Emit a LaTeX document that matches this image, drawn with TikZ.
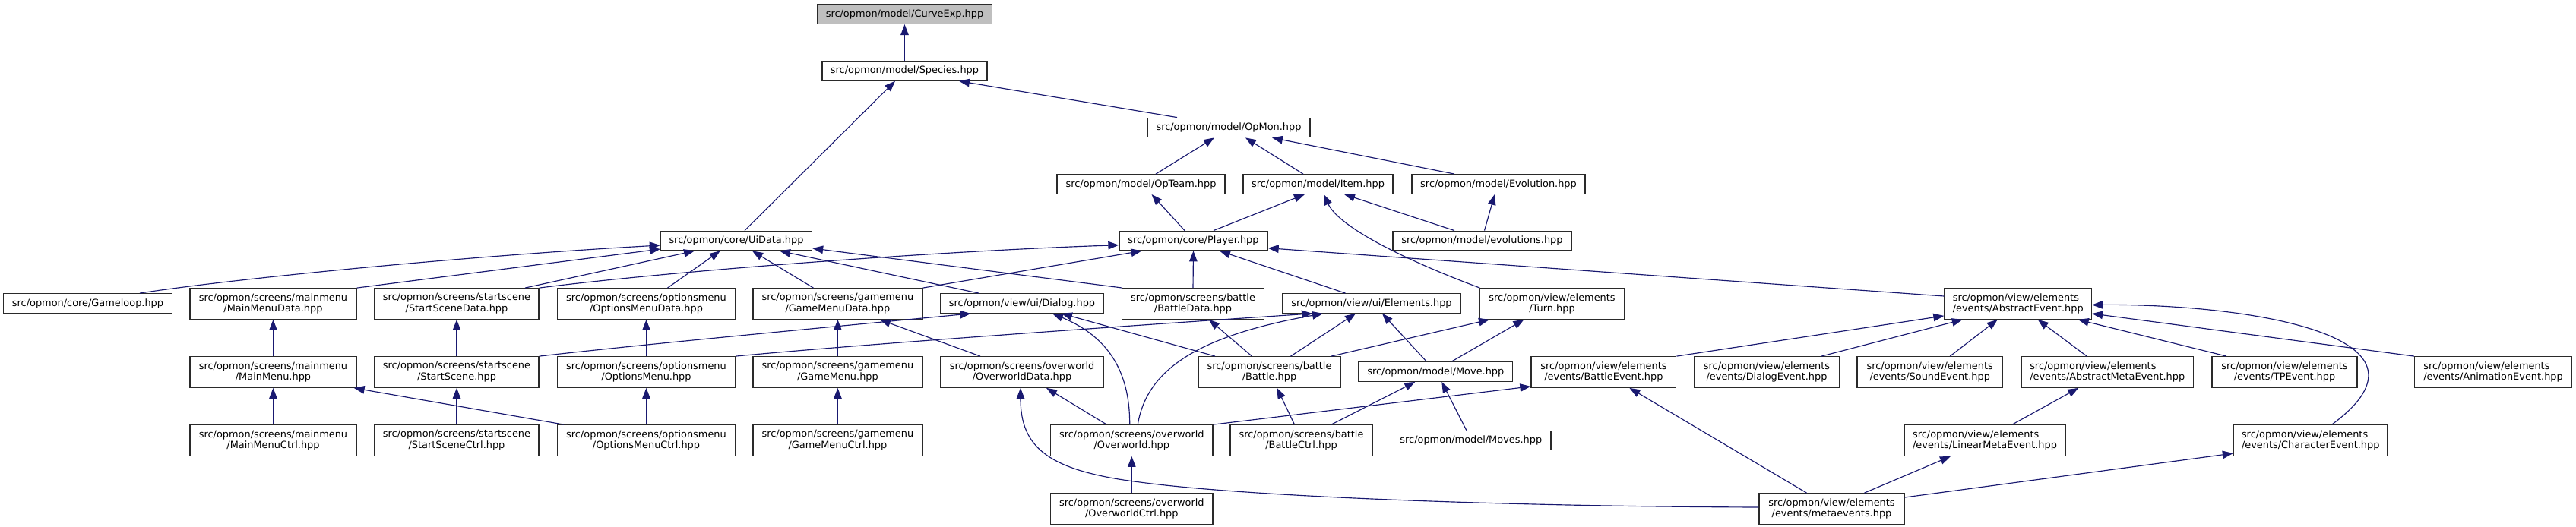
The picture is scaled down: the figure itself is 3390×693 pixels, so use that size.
\documentclass[tikz,border=0pt]{standalone}
\usepackage{fontspec}
\newfontfamily\dvs{DejaVu Sans}
\usetikzlibrary{arrows.meta,calc}
\definecolor{edgec}{HTML}{191970}
\definecolor{nodegray}{HTML}{BFBFBF}
\definecolor{bord}{HTML}{2A2A2A}
\tikzset{
  fbox/.style={draw=bord, line width=1.3pt, fill=white, inner sep=0pt,
    font={\dvs\fontsize{12.9pt}{14.8pt}\selectfont}, align=center, minimum height=25.5pt},
  tbox/.style={fbox, minimum height=40.5pt},
  lbox/.style={tbox, align=left},
  dep/.style={draw=edgec, line width=1.15pt, -{Triangle[length=14pt,width=10.5pt]}},
}
\begin{document}
\begin{tikzpicture}[x=1pt,y=-1pt]
\useasboundingbox[fill=white] (0,0) rectangle (3390,693);
% rank 0-4
\node[fbox, fill=nodegray, minimum width=230pt] (curve) at (1190.5,18.7) {src/opmon/model/CurveExp.hpp};
\node[fbox, minimum width=217pt] (species) at (1190.5,93.3) {src/opmon/model/Species.hpp};
\node[fbox, minimum width=214pt] (opmon) at (1617,168) {src/opmon/model/OpMon.hpp};
\node[fbox, minimum width=221pt] (opteam) at (1501.5,242.5) {src/opmon/model/OpTeam.hpp};
\node[fbox, minimum width=197pt] (item) at (1734.5,242.5) {src/opmon/model/Item.hpp};
\node[fbox, minimum width=228pt] (evolution) at (1972,242.5) {src/opmon/model/Evolution.hpp};
\node[fbox, minimum width=199pt] (uidata) at (969,317) {src/opmon/core/UiData.hpp};
\node[fbox, minimum width=195pt] (player) at (1570.5,317) {src/opmon/core/Player.hpp};
\node[fbox, minimum width=235pt] (evolutions) at (1950.5,317) {src/opmon/model/evolutions.hpp};
% rank 5
\node[fbox, minimum width=222pt] (gameloop) at (115.5,399.5) {src/opmon/core/Gameloop.hpp};
\node[tbox, minimum width=219pt] (mmdata) at (359.5,400) {src/opmon/screens/mainmenu\\/MainMenuData.hpp};
\node[tbox, minimum width=216pt] (ssdata) at (601,400) {src/opmon/screens/startscene\\/StartSceneData.hpp};
\node[tbox, minimum width=234pt] (omdata) at (850.5,400) {src/opmon/screens/optionsmenu\\/OptionsMenuData.hpp};
\node[tbox, minimum width=223pt] (gmdata) at (1102.4,400) {src/opmon/screens/gamemenu\\/GameMenuData.hpp};
\node[fbox, minimum width=214.5pt] (dialog) at (1345,399.5) {src/opmon/view/ui/Dialog.hpp};
\node[tbox, minimum width=186.5pt] (bdata) at (1570,400) {src/opmon/screens/battle\\/BattleData.hpp};
\node[fbox, minimum width=234pt] (elements) at (1805,399.5) {src/opmon/view/ui/Elements.hpp};
\node[tbox, minimum width=191pt] (turn) at (2042.5,400) {src/opmon/view/elements\\/Turn.hpp};
\node[lbox, minimum width=193.5pt] (absevent) at (2655.7,400) {src/opmon/view/elements\\/events/AbstractEvent.hpp};
% rank 6
\node[tbox, minimum width=219pt] (mm) at (359.5,490) {src/opmon/screens/mainmenu\\/MainMenu.hpp};
\node[tbox, minimum width=216pt] (ss) at (601,490) {src/opmon/screens/startscene\\/StartScene.hpp};
\node[tbox, minimum width=234pt] (om) at (850.5,490) {src/opmon/screens/optionsmenu\\/OptionsMenu.hpp};
\node[tbox, minimum width=223pt] (gm) at (1102.4,490) {src/opmon/screens/gamemenu\\/GameMenu.hpp};
\node[tbox, minimum width=214.5pt] (owdata) at (1345,490) {src/opmon/screens/overworld\\/OverworldData.hpp};
\node[tbox, minimum width=187pt] (battle) at (1670.5,490) {src/opmon/screens/battle\\/Battle.hpp};
\node[fbox, minimum width=202.6pt] (move) at (1889.3,489.5) {src/opmon/model/Move.hpp};
\node[tbox, minimum width=190.8pt] (bevent) at (2110.4,490) {src/opmon/view/elements\\/events/BattleEvent.hpp};
\node[tbox, minimum width=191pt] (devent) at (2325,490) {src/opmon/view/elements\\/events/DialogEvent.hpp};
\node[tbox, minimum width=191.4pt] (sevent) at (2539.7,490) {src/opmon/view/elements\\/events/SoundEvent.hpp};
\node[lbox, minimum width=226.4pt] (amevent) at (2773.2,490) {src/opmon/view/elements\\/events/AbstractMetaEvent.hpp};
\node[tbox, minimum width=191pt] (tpevent) at (3006.5,490) {src/opmon/view/elements\\/events/TPEvent.hpp};
\node[lbox, minimum width=207pt] (anevent) at (3281,490) {src/opmon/view/elements\\/events/AnimationEvent.hpp};
% rank 7
\node[tbox, minimum width=219pt] (mmctrl) at (359.5,580) {src/opmon/screens/mainmenu\\/MainMenuCtrl.hpp};
\node[tbox, minimum width=216pt] (ssctrl) at (601,580) {src/opmon/screens/startscene\\/StartSceneCtrl.hpp};
\node[tbox, minimum width=234pt] (omctrl) at (850.5,580) {src/opmon/screens/optionsmenu\\/OptionsMenuCtrl.hpp};
\node[tbox, minimum width=223pt] (gmctrl) at (1102.4,580) {src/opmon/screens/gamemenu\\/GameMenuCtrl.hpp};
\node[tbox, minimum width=213.4pt] (overworld) at (1489.3,580) {src/opmon/screens/overworld\\/Overworld.hpp};
\node[tbox, minimum width=187pt] (bctrl) at (1712.5,580) {src/opmon/screens/battle\\/BattleCtrl.hpp};
\node[fbox, minimum width=210.4pt] (moves) at (1935.8,580) {src/opmon/model/Moves.hpp};
\node[lbox, minimum width=212pt] (lmevent) at (2612,580) {src/opmon/view/elements\\/events/LinearMetaEvent.hpp};
\node[lbox, minimum width=202.5pt] (chevent) at (3040.7,580) {src/opmon/view/elements\\/events/CharacterEvent.hpp};
% rank 8
\node[tbox, minimum width=213.4pt] (owctrl) at (1489.3,670) {src/opmon/screens/overworld\\/OverworldCtrl.hpp};
\node[tbox, minimum width=191pt] (meta) at (2410.5,670) {src/opmon/view/elements\\/events/metaevents.hpp};

% edges
\draw[dep] (species.north) -- (curve.south);
\draw[dep] ($(uidata.north)+(11,0)$) -- ($(species.south)+(-12.5,0)$);
\draw[dep] ($(opmon.north)+(-68,0)$) -- ($(species.south)+(71.5,0)$);
\draw[dep] ($(opteam.north)+(19.5,0)$) -- ($(opmon.south)+(-19,0)$);
\draw[dep] ($(item.north)+(-19.5,0)$) -- ($(opmon.south)+(22,0)$);
\draw[dep] ($(evolution.north)+(-58,0)$) -- ($(opmon.south)+(57,0)$);
\draw[dep] ($(player.north)+(-11.5,0)$) -- ($(opteam.south)+(14,0)$);
\draw[dep] ($(player.north)+(26.5,0)$) -- ($(item.south)+(-17.5,0)$);
\draw[dep] ($(evolutions.north)+(-36.5,0)$) -- ($(item.south)+(34.5,0)$);
\draw[dep] ($(evolutions.north)+(3,0)$) -- ($(evolution.south)+(-5,0)$);
\draw[dep] ($(turn.north west)+(1,0)$) .. controls (1830,335) and (1760,295) .. ($(item.south)+(7.5,0)$);
\draw[dep] ($(gameloop.north)+(68.5,0)$) .. controls (300,368) and (600,338) .. ($(uidata.west)+(0,6)$);
\draw[dep] (mmdata.north east) -- ($(uidata.west)+(0,11)$);
\draw[dep] ($(ssdata.north)+(90,0)$) -- ($(uidata.south)+(-55,0)$);
\draw[dep] ($(omdata.north)+(28,0)$) -- ($(uidata.south)+(-21.3,0)$);
\draw[dep] ($(gmdata.north)+(-32,0)$) -- ($(uidata.south)+(21,0)$);
\draw[dep] ($(dialog.north)+(-57,0)$) -- ($(uidata.south)+(57,0)$);
\draw[dep] ($(bdata.north west)+(1,0)$) -- ($(uidata.east)+(0,10)$);
\draw[dep] (ssdata.north east) .. controls (900,355) and (1250,330) .. ($(player.west)+(0,5.7)$);
\draw[dep] (gmdata.north east) -- ($(player.south)+(-68,0)$);
\draw[dep] (bdata.north) -- (player.south);
\draw[dep] ($(elements.north)+(-34.5,0)$) -- ($(player.south)+(34.5,0)$);
\draw[dep] ($(absevent.west)+(0,-10)$) -- ($(player.east)+(0,9.7)$);
\draw[dep] (mm.north) -- (mmdata.south);
\draw[dep] (ss.north) -- (ssdata.south);
\draw[dep] (om.north) -- (omdata.south);
\draw[dep] (gm.north) -- (gmdata.south);
\draw[dep] ($(owdata.north)+(-55,0)$) -- ($(gmdata.south)+(55.5,0)$);
\draw[dep] (ss.north east) .. controls (850,453) and (1100,430) .. ($(dialog.south)+(-67.5,0)$);
\draw[dep] ($(overworld.north)+(-2.6,0)$) .. controls (1487,480) and (1450,440) .. ($(dialog.south)+(40,0)$);
\draw[dep] ($(battle.north)+(-71.5,0)$) -- ($(dialog.south)+(52,0)$);
\draw[dep] ($(battle.north)+(-23,0)$) -- ($(bdata.south)+(21,0)$);
\draw[dep] (om.north east) .. controls (1150,452) and (1500,428) .. ($(elements.south)+(-78,0)$);
\draw[dep] ($(overworld.north)+(8,0)$) .. controls (1510,480) and (1590,440) .. ($(elements.south)+(-64,0)$);
\draw[dep] ($(battle.north)+(28,0)$) -- ($(elements.south)+(-21,0)$);
\draw[dep] ($(move.north)+(-12,0)$) -- ($(elements.south)+(14,0)$);
\draw[dep] ($(battle.north)+(81.5,0)$) -- ($(turn.south)+(-82.5,0)$);
\draw[dep] ($(move.north)+(21,0)$) -- ($(turn.south)+(-37,0)$);
\draw[dep] (mmctrl.north) -- (mm.south);
\draw[dep] ($(omctrl.north west)+(9,0)$) -- ($(mm.south east)+(-4,0)$);
\draw[dep] (ssctrl.north) -- (ss.south);
\draw[dep] (omctrl.north) -- (om.south);
\draw[dep] (gmctrl.north) -- (gm.south);
\draw[dep] ($(overworld.north)+(-33,0)$) -- ($(owdata.south)+(32,0)$);
\draw[dep] ($(meta.west)+(0,-2)$) .. controls (2000,667) and (1650,655) .. (1500,635) .. controls (1380,620) and (1343,590) .. ($(owdata.south)+(-2,0)$);
\draw[dep] ($(bctrl.north)+(-9,0)$) -- ($(battle.south)+(10,0)$);
\draw[dep] ($(bctrl.north)+(39.5,0)$) -- ($(move.south)+(-27,0)$);
\draw[dep] ($(moves.north)+(-6,0)$) -- ($(move.south)+(8,0)$);
\draw[dep] (overworld.north east) -- ($(bevent.south west)+(0,-2)$);
\draw[dep] (owctrl.north) -- (overworld.south);
\draw[dep] (bevent.north east) -- ($(absevent.south west)+(0,-5)$);
\draw[dep] ($(devent.north)+(72,0)$) -- ($(absevent.south)+(-73,0)$);
\draw[dep] ($(sevent.north)+(26.5,0)$) -- ($(absevent.south)+(-27,0)$);
\draw[dep] ($(amevent.north)+(-27,0)$) -- ($(absevent.south)+(26,0)$);
\draw[dep] ($(tpevent.north)+(-76.5,0)$) -- ($(absevent.south)+(79,0)$);
\draw[dep] (anevent.north west) -- ($(absevent.east)+(0,13)$);
\draw[dep] ($(chevent.north)+(28,0)$) .. controls (3230,440) and (2950,400) .. ($(absevent.east)+(0,1.5)$);
\draw[dep] ($(lmevent.north)+(36,0)$) -- ($(amevent.south)+(-38,0)$);
\draw[dep] ($(meta.north)+(-33,0)$) -- ($(bevent.south)+(34,0)$);
\draw[dep] ($(meta.north)+(43,0)$) -- ($(lmevent.south)+(-45,0)$);
\draw[dep] ($(meta.east)+(0,-15)$) -- ($(chevent.west)+(0,17)$);
\end{tikzpicture}
\end{document}
